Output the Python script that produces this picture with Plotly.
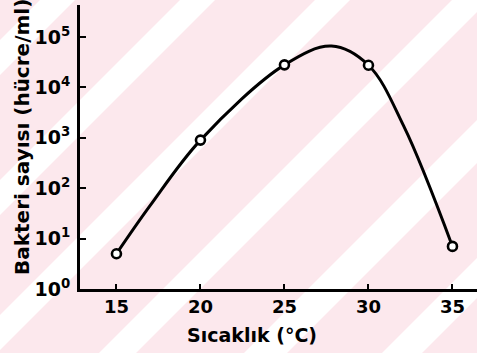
import plotly.graph_objects as go

# Measured bacterial counts at each incubation temperature
temperature = [15, 20, 25, 30, 35]
bacteria_count = [5, 900, 28000, 27500, 7]

# Hand-drawn trend curve through the measurements (temperature, cells/ml):
# it passes every measurement, peaks near 27.8 °C and falls off steeply.
curve_temp = [15, 17.0, 20, 25, 27.8, 30, 32.1, 35]
curve_count = [5, 45, 900, 28000, 66000, 27500, 1700, 7]

x_tickvals = [15, 20, 25, 30, 35]
x_ticktext = ["15", "20", "25", "30", "35"]
y_tickvals = [1, 10, 100, 1000, 10000, 100000]
y_ticktext = ["10<sup>0</sup>", "10<sup>1</sup>", "10<sup>2</sup>",
              "10<sup>3</sup>", "10<sup>4</sup>", "10<sup>5</sup>"]

x_title = "Sıcaklık (°C)"
y_title = "Bakteri sayısı (hücre/ml)"

# --- page geometry (pixels) ---
W, H = 477, 353
L, R, T, B = 80, 0, 5, 64
PW, PH = W - L - R, H - T - B

PINK = "rgb(252,232,237)"
FONT = "DejaVu Sans, sans-serif"


def px_to_paper(px, py):
    return (px - L) / PW, (H - B - py) / PH


# diagonal white bands of the background (x + y = const, in pixels)
band_edges = [(40, 75), (180, 215), (315, 350), (452, 489), (597, 640), (735, 775)]
shapes = []
for a, b in band_edges:
    pts = [(a, 0), (b, 0), (b - 600, 600), (a - 600, 600)]
    pp = [px_to_paper(x, y) for x, y in pts]
    path = "M " + " L ".join(f"{x:.4f},{y:.4f}" for x, y in pp) + " Z"
    shapes.append(dict(type="path", path=path, xref="paper", yref="paper",
                       fillcolor="white", line=dict(width=0), layer="below"))

fig = go.Figure()
fig.add_trace(go.Scatter(
    x=curve_temp, y=curve_count, mode="lines",
    line=dict(color="black", width=3, shape="spline", smoothing=1.0),
    hoverinfo="skip", showlegend=False))
fig.add_trace(go.Scatter(
    x=temperature, y=bacteria_count, mode="markers",
    marker=dict(symbol="circle", size=9, color="white",
                line=dict(color="black", width=2.6)),
    showlegend=False))

fig.update_layout(
    width=W, height=H,
    margin=dict(l=L, r=R, t=T, b=B, pad=0),
    paper_bgcolor=PINK, plot_bgcolor="rgba(0,0,0,0)",
    shapes=shapes,
    font=dict(family=FONT, color="black"),
    xaxis=dict(
        range=[12.83, 36.46], tickvals=x_tickvals, ticktext=x_ticktext,
        ticks="inside", ticklen=5, tickwidth=2, tickcolor="black",
        showline=True, linecolor="black", linewidth=2.5,
        showgrid=False, zeroline=False,
        tickfont=dict(size=18, family=FONT, weight="bold"),
        ticklabelstandoff=0,
    ),
    yaxis=dict(
        type="log", range=[0, 5.635], tickvals=y_tickvals, ticktext=y_ticktext,
        ticks="inside", ticklen=6, tickwidth=2, tickcolor="black",
        showline=True, linecolor="black", linewidth=3,
        showgrid=False, zeroline=False,
        tickfont=dict(size=19, family=FONT, weight="bold"),
        ticklabelstandoff=3,
    ),
    annotations=[
        dict(text=x_title, xref="paper", yref="paper",
             x=px_to_paper(252, 335)[0], y=px_to_paper(252, 335)[1],
             xanchor="center", yanchor="middle", showarrow=False,
             font=dict(size=19, family=FONT, weight="bold")),
        dict(text=y_title, xref="paper", yref="paper",
             x=px_to_paper(22, 137)[0], y=px_to_paper(22, 137)[1],
             xanchor="center", yanchor="middle", showarrow=False, textangle=-90,
             font=dict(size=20, family=FONT, weight="bold")),
    ],
)

fig.write_html("out.html")
